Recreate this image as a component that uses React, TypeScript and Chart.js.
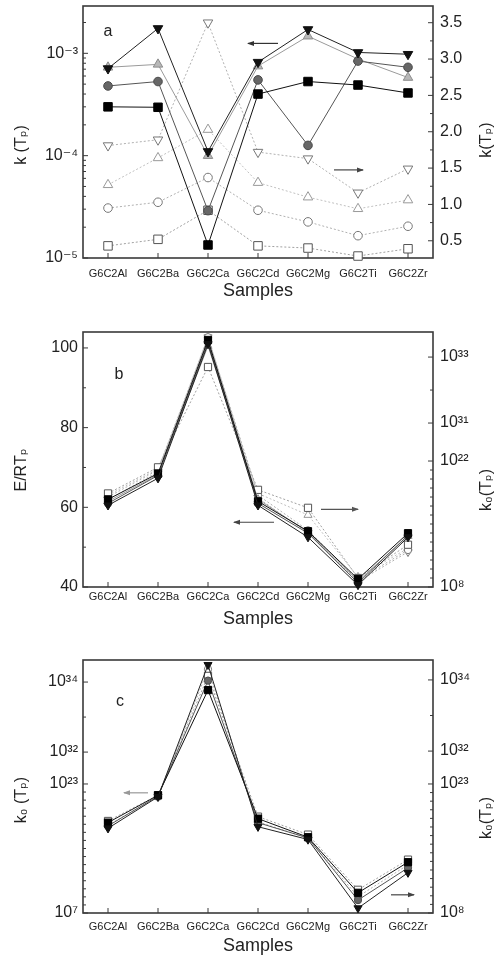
import React, { useEffect, useRef } from 'react';
import { Chart, registerables, LinearScale } from 'chart.js';

Chart.register(...registerables);

const FONT = "'Liberation Sans', Arial, 'DejaVu Sans', sans-serif";
const INK = '#222222';

// ---------------- data ----------------
const samples = ['G6C2Al', 'G6C2Ba', 'G6C2Ca', 'G6C2Cd', 'G6C2Mg', 'G6C2Ti', 'G6C2Zr'];

// Panel a: k(Tp) left log axis (filled symbols)
const aFilledDown = [7.1e-4, 1.75e-3, 1.1e-4, 8.2e-4, 1.71e-3, 1.02e-3, 9.8e-4];
const aFilledUp = [7.3e-4, 7.8e-4, 1.0e-4, 7.5e-4, 1.47e-3, 8.8e-4, 5.8e-4];
const aFilledCircle = [4.8e-4, 5.3e-4, 2.9e-5, 5.5e-4, 1.26e-4, 8.4e-4, 7.3e-4];
const aFilledSquare = [3.0e-4, 2.97e-4, 1.34e-5, 4.0e-4, 5.3e-4, 4.9e-4, 4.1e-4];
// Panel a: k(Tp) right linear axis (open symbols)
const aOpenDown = [1.81, 1.89, 3.5, 1.72, 1.63, 1.16, 1.49];
const aOpenUp = [1.27, 1.64, 2.03, 1.3, 1.1, 0.94, 1.06];
const aOpenCircle = [0.95, 1.03, 1.37, 0.92, 0.76, 0.57, 0.7];
const aOpenSquare = [0.43, 0.52, 0.92, 0.43, 0.4, 0.29, 0.39];
const aLeftTickExps = [-5, -4, -3];
const aRightTicks = [0.5, 1.0, 1.5, 2.0, 2.5, 3.0, 3.5];

// Panel b: E/RTp left linear axis (filled), k0(Tp) right broken log axis (open)
const bFilledDown = [60.5, 67.3, 101, 60.5, 52.5, 40.5, 52.5];
const bFilledCircle = [61, 68, 101.5, 61, 53.5, 41, 53];
const bFilledSquare = [62, 68.5, 102, 61.5, 54, 42, 53.5];
const bFilledUp = [61.5, 68.2, 100.5, 62, 53.8, 41.5, 52.8];
const bOpenSquare = [2.5e18, 2.0e21, 5.0e32, 6.3e18, 6.3e16, 1.0e9, 5.0e12];
const bOpenCircle = [1.0e18, 1.0e21, 4.0e33, 1.6e18, 2.0e14, 6.3e8, 1.3e12];
const bOpenDown = [5.0e17, 6.3e20, 4.0e33, 8.0e17, 1.0e14, 4.0e8, 8.0e11];
const bOpenUp = [1.6e18, 1.3e21, 3.2e33, 2.5e18, 1.0e16, 1.3e9, 2.0e12];
const bLeftTicks = [40, 60, 80, 100];
const bRightTickExps = [8, 22, 31, 33];

// Panel c: k0(Tp) left broken log axis (filled), k0(Tp) right broken log axis (open)
const cFilledDown = [3.2e17, 2.5e21, 3.1e34, 5.0e17, 1.3e16, 4.0e7, 1.0e12];
const cFilledSquare = [1.6e18, 4.0e21, 5.9e33, 5.0e18, 2.5e16, 3.2e9, 2.0e13];
const cFilledCircle = [6.3e17, 3.2e21, 1.1e34, 1.6e18, 2.0e16, 4.0e8, 4.0e12];
const cOpenSquare = [5.0e18, 5.0e21, 1.3e34, 1.6e19, 1.3e17, 5.0e10, 1.6e14];
const cOpenCircle = [1.6e18, 3.2e21, 2.0e34, 4.0e18, 5.0e16, 8.0e9, 4.0e13];
const cLeftTickExps = [7, 23, 32, 34];
const cRightTickExps = [8, 23, 32, 34];

// ---------------- helpers ----------------
const SUP: Record<string, string> = {
  '0': '⁰', '1': '¹', '2': '²', '3': '³', '4': '⁴', '5': '⁵', '6': '⁶', '7': '⁷', '8': '⁸', '9': '⁹', '-': '⁻',
};
const pow10Label = (e: number) => '10' + String(e).split('').map((c) => SUP[c] || c).join('');

type BrokenSpec = { id: string; lo: number[]; hi: number[]; fLo: number; fHi: number; majors: number[] };

function makeBrokenScale(spec: BrokenSpec) {
  const toDec = (v: number) => {
    if (!(v > 0)) return 0;
    const e = Math.log10(v);
    if (e <= spec.lo[1]) return ((e - spec.lo[0]) / (spec.lo[1] - spec.lo[0])) * spec.fLo;
    if (e >= spec.hi[0]) return spec.fHi + ((e - spec.hi[0]) / (spec.hi[1] - spec.hi[0])) * (1 - spec.fHi);
    return spec.fLo + ((e - spec.lo[1]) / (spec.hi[0] - spec.lo[1])) * (spec.fHi - spec.fLo);
  };
  const fromDec = (d: number) => {
    let e: number;
    if (d <= spec.fLo) e = spec.lo[0] + (d / spec.fLo) * (spec.lo[1] - spec.lo[0]);
    else if (d >= spec.fHi) e = spec.hi[0] + ((d - spec.fHi) / (1 - spec.fHi)) * (spec.hi[1] - spec.hi[0]);
    else e = spec.lo[1] + ((d - spec.fLo) / (spec.fHi - spec.fLo)) * (spec.hi[0] - spec.lo[1]);
    return Math.pow(10, e);
  };
  const tickExps: { e: number; major: boolean }[] = [];
  for (let e = spec.lo[0]; e <= spec.lo[1]; e++) tickExps.push({ e, major: spec.majors.includes(e) });
  for (let e = spec.hi[0]; e <= Math.floor(spec.hi[1]); e++) tickExps.push({ e, major: spec.majors.includes(e) });

  return class extends LinearScale {
    static id = spec.id;
    determineDataLimits() {
      (this as any).min = Math.pow(10, spec.lo[0]);
      (this as any).max = Math.pow(10, spec.hi[1]);
    }
    buildTicks() {
      return tickExps.map((t) => ({ value: Math.pow(10, t.e), major: t.major }));
    }
    getPixelForValue(v: any) {
      if (v === null || v === undefined) return NaN;
      return (this as any).getPixelForDecimal(toDec(+v));
    }
    getValueForPixel(p: number) {
      return fromDec((this as any).getDecimalForPixel(p));
    }
  };
}

const BrokenB = makeBrokenScale({ id: 'brokenB', lo: [8, 22], hi: [31, 33.76], fLo: 0.494, fHi: 0.643, majors: bRightTickExps });
const BrokenCL = makeBrokenScale({ id: 'brokenCL', lo: [7, 23], hi: [32, 34.63], fLo: 0.51, fHi: 0.636, majors: cLeftTickExps });
const BrokenCR = makeBrokenScale({ id: 'brokenCR', lo: [8, 23], hi: [32, 34.56], fLo: 0.51, fHi: 0.64, majors: cRightTickExps });
Chart.register(BrokenB as any, BrokenCL as any, BrokenCR as any);

const brokenLabel = (v: number, i: number, ticks: any[]) =>
  ticks[i] && ticks[i].major ? pow10Label(Math.round(Math.log10(v))) : '';

type Sty = { ps: string; rot: number; r: number; bg: string; bd: string; line: string; dash: number[] };
const ST: Record<string, Sty> = {
  fDown: { ps: 'triangle', rot: 180, r: 5.5, bg: '#111', bd: '#111', line: '#222', dash: [] },
  fUp: { ps: 'triangle', rot: 0, r: 5.5, bg: '#b8b8b8', bd: '#8c8c8c', line: '#9a9a9a', dash: [] },
  fCircle: { ps: 'circle', rot: 0, r: 4.3, bg: '#676767', bd: '#4a4a4a', line: '#555', dash: [] },
  fSquare: { ps: 'rect', rot: 0, r: 6, bg: '#000', bd: '#000', line: '#111', dash: [] },
  oDown: { ps: 'triangle', rot: 180, r: 5.5, bg: '#fff', bd: '#777', line: '#b0b0b0', dash: [2, 2] },
  oUp: { ps: 'triangle', rot: 0, r: 5.5, bg: '#fff', bd: '#999', line: '#c0c0c0', dash: [2, 2] },
  oCircle: { ps: 'circle', rot: 0, r: 4.3, bg: '#fff', bd: '#777', line: '#b0b0b0', dash: [2, 2] },
  oSquare: { ps: 'rect', rot: 0, r: 6, bg: '#fff', bd: '#555', line: '#a0a0a0', dash: [2, 2] },
};

function series(data: number[], yAxisID: string, st: Sty, k = 1) {
  return {
    data,
    yAxisID,
    xAxisID: 'x',
    borderColor: st.line,
    borderWidth: 1,
    borderDash: st.dash,
    pointStyle: st.ps,
    pointRotation: st.rot,
    pointRadius: st.r * k,
    pointBackgroundColor: st.bg,
    pointBorderColor: st.bd,
    pointBorderWidth: 1,
    tension: 0,
    fill: false,
    clip: false,
  };
}

type Arrow = { from: number; to: number; y: number; axis: string; color: string };
type Decor = {
  letter: string; letterDx: number; letterDy: number;
  leftTitle: string; leftTitleY: number; rightTitle: string; rightTitleY: number;
  arrows: Arrow[];
};

function decorPlugin(d: Decor) {
  return {
    id: 'decor',
    beforeDatasetsDraw(chart: any) {
      const { ctx, chartArea: ca } = chart;
      ctx.save();
      ctx.strokeStyle = '#3a3a3a';
      ctx.lineWidth = 1;
      Object.values(chart.scales).forEach((s: any) => {
        s.ticks.forEach((t: any, i: number) => {
          const p = s.getPixelForTick(i);
          if (p === null || !isFinite(p)) return;
          ctx.beginPath();
          if (s.axis === 'x') {
            ctx.moveTo(p, ca.bottom);
            ctx.lineTo(p, ca.bottom - 5);
          } else {
            if (p < ca.top - 0.5 || p > ca.bottom + 0.5) return;
            const len = t.label ? 5 : 3;
            if (s.position === 'left') {
              ctx.moveTo(ca.left, p);
              ctx.lineTo(ca.left + len, p);
            } else {
              ctx.moveTo(ca.right, p);
              ctx.lineTo(ca.right - len, p);
            }
          }
          ctx.stroke();
        });
      });
      ctx.lineWidth = 1.6;
      ctx.strokeRect(ca.left, ca.top, ca.right - ca.left, ca.bottom - ca.top);

      ctx.fillStyle = INK;
      ctx.font = `16px ${FONT}`;
      ctx.textAlign = 'center';
      ctx.textBaseline = 'middle';
      const titles: [number, number, string][] = [
        [22, d.leftTitleY, d.leftTitle],
        [487, d.rightTitleY, d.rightTitle],
      ];
      titles.forEach(([x, y, text]) => {
        ctx.save();
        ctx.translate(x, y);
        ctx.rotate(-Math.PI / 2);
        ctx.fillText(text, 0, 0);
        ctx.restore();
      });
      ctx.fillText(d.letter, ca.left + d.letterDx, ca.top + d.letterDy);

      const xs = chart.scales.x;
      d.arrows.forEach((a) => {
        const x0 = xs.getPixelForValue(a.from);
        const x1 = xs.getPixelForValue(a.to);
        const y = chart.scales[a.axis].getPixelForValue(a.y);
        ctx.strokeStyle = a.color;
        ctx.fillStyle = a.color;
        ctx.lineWidth = 1.2;
        ctx.beginPath();
        ctx.moveTo(x0, y);
        ctx.lineTo(x1, y);
        ctx.stroke();
        const dir = Math.sign(x1 - x0);
        ctx.beginPath();
        ctx.moveTo(x1 + dir, y);
        ctx.lineTo(x1 - dir * 6, y - 2.5);
        ctx.lineTo(x1 - dir * 6, y + 2.5);
        ctx.closePath();
        ctx.fill();
      });
      ctx.restore();
    },
  };
}

function xAxis(height: number, labelPad: number, titlePad: number) {
  return {
    type: 'category',
    position: 'bottom',
    offset: true,
    grid: { display: false, drawTicks: false },
    border: { display: false },
    ticks: { font: { family: FONT, size: 11 }, color: INK, padding: labelPad, autoSkip: false, maxRotation: 0, minRotation: 0 },
    title: {
      display: true,
      text: 'Samples',
      color: INK,
      font: { family: FONT, size: 18, lineHeight: 1 },
      padding: { top: 0, bottom: titlePad },
    },
    afterFit: (s: any) => {
      s.height = height;
      s.paddingLeft = 0;
      s.paddingRight = 0;
    },
  };
}

function yAxis(position: 'left' | 'right', extra: any) {
  const { ticks, ...rest } = extra;
  return {
    position,
    grid: { display: false, drawTicks: false },
    border: { display: false },
    title: { display: false },
    afterFit: (s: any) => {
      s.width = position === 'left' ? 83 : 67;
      s.paddingTop = 0;
      s.paddingBottom = 0;
    },
    ...rest,
    ticks: {
      font: { family: FONT, size: 16 },
      color: INK,
      padding: position === 'left' ? 5 : 7,
      autoSkip: false,
      ...(ticks || {}),
    },
  };
}

function baseOptions(top: number, scales: any) {
  return {
    responsive: false,
    animation: false,
    events: [],
    layout: { padding: { left: 0, right: 0, top, bottom: 0 }, autoPadding: false },
    plugins: { legend: { display: false }, tooltip: { enabled: false } },
    scales,
  };
}

// ---------------- panel configs ----------------
function configA() {
  const maxA = 2.9e-3;
  return {
    type: 'line',
    data: {
      labels: samples,
      datasets: [
        series(aFilledDown, 'yL', ST.fDown),
        series(aFilledSquare, 'yL', ST.fSquare),
        series(aFilledCircle, 'yL', ST.fCircle),
        series(aFilledUp, 'yL', ST.fUp),
        series(aOpenDown, 'yR', ST.oDown),
        series(aOpenUp, 'yR', ST.oUp),
        series(aOpenCircle, 'yR', ST.oCircle),
        series(aOpenSquare, 'yR', ST.oSquare),
      ],
    },
    options: baseOptions(6, {
      x: xAxis(42, 9, 0),
      yL: yAxis('left', {
        type: 'logarithmic',
        min: 1e-5,
        max: maxA,
        afterBuildTicks: (s: any) => {
          const t: any[] = [];
          aLeftTickExps.forEach((e) => {
            for (let m = 1; m <= 9; m++) {
              const v = m * Math.pow(10, e);
              if (v <= maxA * 1.0001) t.push({ value: v, major: m === 1 });
            }
          });
          s.ticks = t;
        },
        ticks: {
          callback: (v: number, i: number, ticks: any[]) =>
            ticks[i] && ticks[i].major ? pow10Label(Math.round(Math.log10(v))) : '',
        },
      }),
      yR: yAxis('right', {
        type: 'linear',
        min: 0.263,
        max: 3.73,
        afterBuildTicks: (s: any) => {
          const t: any[] = [];
          aRightTicks.forEach((v, i) => {
            t.push({ value: v, major: true });
            if (i < aRightTicks.length - 1) t.push({ value: (v + aRightTicks[i + 1]) / 2, major: false });
          });
          s.ticks = t;
        },
        ticks: {
          callback: (v: number, i: number, ticks: any[]) => (ticks[i] && ticks[i].major ? v.toFixed(1) : ''),
        },
      }),
    }),
    plugins: [
      decorPlugin({
        letter: 'a', letterDx: 25, letterDy: 26,
        leftTitle: 'k (Tₚ)', leftTitleY: 145,
        rightTitle: 'k(Tₚ)', rightTitleY: 140,
        arrows: [
          { from: 3.4, to: 2.8, y: 1.25e-3, axis: 'yL', color: '#333' },
          { from: 4.52, to: 5.1, y: 1.475, axis: 'yR', color: '#444' },
        ],
      }),
    ],
  };
}

function configB() {
  const k = 0.85;
  return {
    type: 'line',
    data: {
      labels: samples,
      datasets: [
        series(bFilledDown, 'yL', ST.fDown, k),
        series(bFilledSquare, 'yL', ST.fSquare, k),
        series(bFilledCircle, 'yL', ST.fCircle, k),
        series(bFilledUp, 'yL', ST.fUp, k),
        series(bOpenSquare, 'yR', ST.oSquare, k),
        series(bOpenCircle, 'yR', ST.oCircle, k),
        series(bOpenDown, 'yR', ST.oDown, k),
        series(bOpenUp, 'yR', ST.oUp, k),
      ],
    },
    options: baseOptions(32, {
      x: xAxis(43, 3, 2),
      yL: yAxis('left', {
        type: 'linear',
        min: 40,
        max: 104,
        afterBuildTicks: (s: any) => {
          const t: any[] = [];
          bLeftTicks.forEach((v, i) => {
            t.push({ value: v, major: true });
            if (i < bLeftTicks.length - 1) t.push({ value: (v + bLeftTicks[i + 1]) / 2, major: false });
          });
          s.ticks = t;
        },
        ticks: {
          callback: (v: number, i: number, ticks: any[]) => (ticks[i] && ticks[i].major ? String(v) : ''),
        },
      }),
      yR: yAxis('right', { type: 'brokenB', ticks: { callback: brokenLabel } }),
    }),
    plugins: [
      decorPlugin({
        letter: 'b', letterDx: 36, letterDy: 43,
        leftTitle: 'E/RTₚ', leftTitleY: 170,
        rightTitle: 'k₀(Tₚ)', rightTitleY: 190,
        arrows: [
          { from: 3.32, to: 2.52, y: 56.25, axis: 'yL', color: '#444' },
          { from: 4.26, to: 5.0, y: 59.5, axis: 'yL', color: '#555' },
        ],
      }),
    ],
  };
}

function configC() {
  const k = 0.85;
  return {
    type: 'line',
    data: {
      labels: samples,
      datasets: [
        series(cFilledDown, 'yL', ST.fDown, k),
        series(cFilledSquare, 'yL', ST.fSquare, k),
        series(cFilledCircle, 'yL', ST.fCircle, k),
        series(cOpenSquare, 'yR', ST.oSquare, k),
        series(cOpenCircle, 'yR', ST.oCircle, k),
      ],
    },
    options: baseOptions(30, {
      x: xAxis(46, 7, 4),
      yL: yAxis('left', { type: 'brokenCL', ticks: { callback: brokenLabel } }),
      yR: yAxis('right', { type: 'brokenCR', ticks: { callback: brokenLabel } }),
    }),
    plugins: [
      decorPlugin({
        letter: 'c', letterDx: 37, letterDy: 42,
        leftTitle: 'k₀ (Tₚ)', leftTitleY: 170,
        rightTitle: 'k₀(Tₚ)', rightTitleY: 188,
        arrows: [
          { from: 0.8, to: 0.32, y: 8e21, axis: 'yL', color: '#999' },
          { from: 5.66, to: 6.12, y: 1.3e10, axis: 'yR', color: '#444' },
        ],
      }),
    ],
  };
}

function ChartCanvas({ height, make }: { height: number; make: () => any }) {
  const ref = useRef<HTMLCanvasElement>(null);
  useEffect(() => {
    const chart = new Chart(ref.current as HTMLCanvasElement, make());
    return () => chart.destroy();
  }, []);
  return <canvas ref={ref} width={500} height={height} style={{ display: 'block', width: 500, height }} />;
}

export default function App() {
  return (
    <div style={{ position: 'absolute', left: 0, top: 0, width: 500, height: 959, background: '#fff' }}>
      <ChartCanvas height={300} make={configA} />
      <ChartCanvas height={330} make={configB} />
      <ChartCanvas height={329} make={configC} />
    </div>
  );
}
